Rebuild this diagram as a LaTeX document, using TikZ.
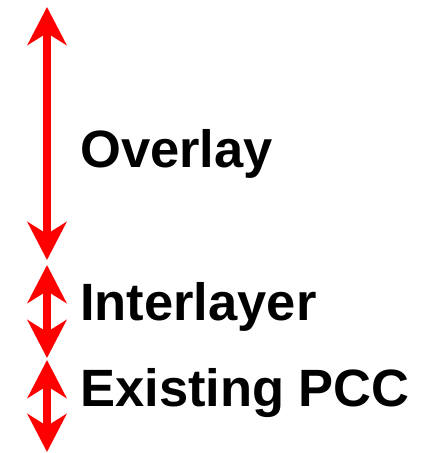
\documentclass[tikz,border=0pt]{standalone}
\usepackage{fontspec}
\setmainfont{Liberation Sans}
\usetikzlibrary{arrows.meta}
\definecolor{layerred}{RGB}{255,0,0}
\tikzset{
  thick arr/.style={{Stealth[length=38pt, width=39pt, inset=12pt]}-{Stealth[length=38pt, width=39pt, inset=12pt]}, line width=7.5pt, draw=layerred},
  lbl/.style={anchor=base west, inner sep=0pt, font=\fontsize{52.5}{60}\selectfont\bfseries},
}

\begin{document}
\begin{tikzpicture}[x=1pt, y=-1pt]
\useasboundingbox (0,0) rectangle (430,453);
% layer limits
\coordinate (ovtop) at (47,7);
\coordinate (ovbot) at (47,260);
\coordinate (intop) at (47,265);
\coordinate (inbot) at (47,358);
\coordinate (extop) at (47,360);
\coordinate (exbot) at (47,452);
\draw[thick arr] (ovtop) -- (ovbot);
\draw[thick arr] (intop) -- (inbot);
\draw[thick arr] (extop) -- (exbot);
% labels
\node[lbl] (overlay) at (80,167) {Overlay};
\node[lbl] (inter) at (80,320) {Interlayer};
\node[lbl] (exist) at (80,406) {Existing PCC};
\end{tikzpicture}
\end{document}
